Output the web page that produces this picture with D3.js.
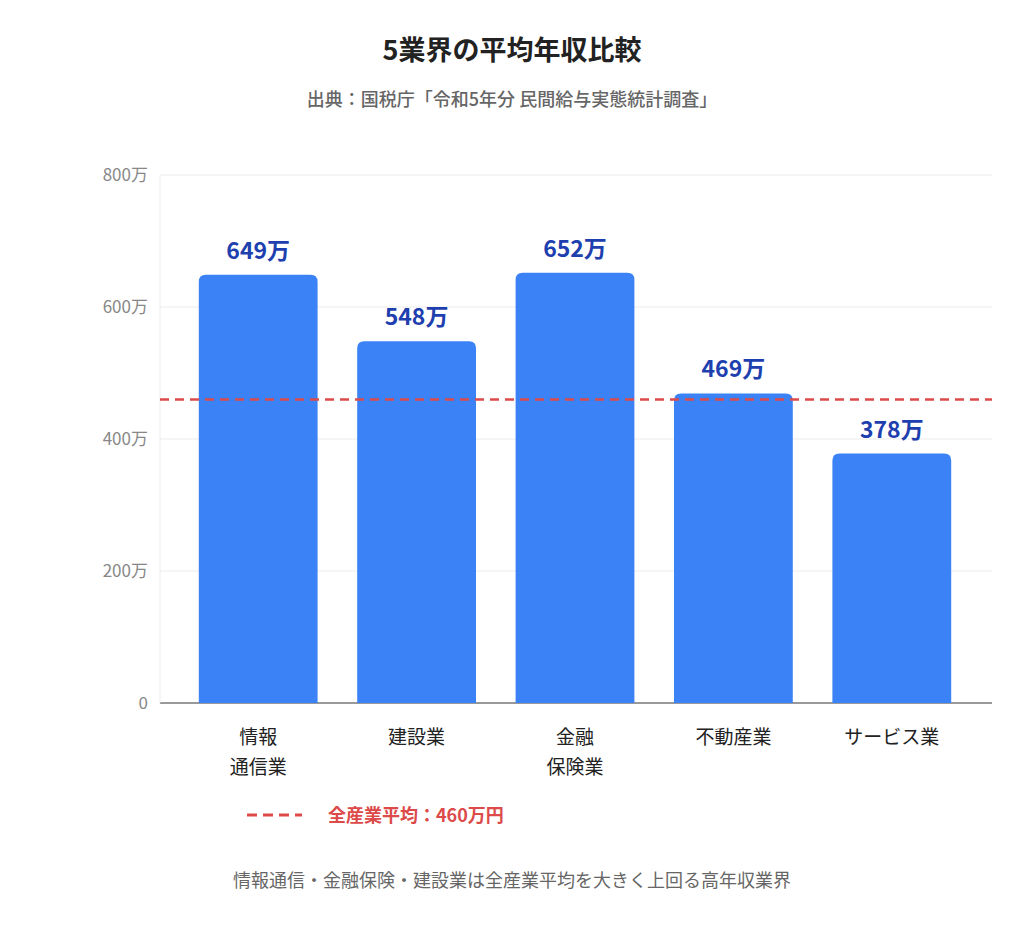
<!DOCTYPE html>
<html><head><meta charset="utf-8">
<script src="https://cdn.jsdelivr.net/npm/d3@7"></script>
<style>body{margin:0;background:#fff;font-family:"Noto Sans CJK JP","Noto Sans",sans-serif}</style>
</head><body><svg id="c" width="1024" height="928"></svg>
<script>
const categories=[["情報","通信業"],["建設業"],["金融","保険業"],["不動産業"],["サービス業"]];
const values=[649,548,652,469,378];
const average=460;
const yTicks=[0,200,400,600,800];
const svg=d3.select("#c");
const F='"Noto Sans CJK JP",sans-serif';
const x=d3.scaleBand().domain(d3.range(5)).range([179,971]).paddingInner(0.25).paddingOuter(0.125);
const y=d3.scaleLinear().domain([0,800]).range([703,175]);
svg.append("text").attr("x",512).attr("y",60).attr("text-anchor","middle").attr("font-family",F).attr("font-size",27).attr("font-weight",700).attr("fill","#222").text("5業界の平均年収比較");
svg.append("text").attr("x",512).attr("y",106).attr("text-anchor","middle").attr("font-family",F).attr("font-size",18).attr("font-weight",500).attr("fill","#666").text("出典：国税庁「令和5年分 民間給与実態統計調査」");
svg.selectAll(".g").data(yTicks).enter().append("line").attr("x1",160).attr("x2",992).attr("y1",d=>y(d)).attr("y2",d=>y(d)).attr("stroke",d=>d===0?"#999":"#ebebeb").attr("stroke-width",d=>d===0?2:1);
svg.append("line").attr("x1",160).attr("x2",160).attr("y1",175).attr("y2",703).attr("stroke","#ebebeb");
svg.selectAll(".t").data(yTicks).enter().append("text").attr("x",148).attr("y",d=>y(d)+6).attr("text-anchor","end").attr("font-family",F).attr("font-size",17).attr("fill","#888").text(d=>d===0?"0":d+"万");
const r=7;
svg.selectAll(".b").data(values).enter().append("path").attr("fill","#3b82f6").attr("d",(d,i)=>{const x0=x(i),w=x.bandwidth(),y0=y(d),y1=y(0);return `M${x0},${y1}V${y0+r}Q${x0},${y0} ${x0+r},${y0}H${x0+w-r}Q${x0+w},${y0} ${x0+w},${y0+r}V${y1}Z`;});
svg.selectAll(".v").data(values).enter().append("text").attr("x",(d,i)=>x(i)+x.bandwidth()/2).attr("y",d=>y(d)-16).attr("text-anchor","middle").attr("font-family",F).attr("font-size",23).attr("font-weight",700).attr("fill","#1e40af").text(d=>d+"万");
svg.append("line").attr("x1",160).attr("x2",992).attr("y1",y(average)).attr("y2",y(average)).attr("stroke","#dc4a4a").attr("stroke-width",2.5).attr("stroke-dasharray","9,6");
categories.forEach((c,i)=>{c.forEach((s,j)=>{svg.append("text").attr("x",x(i)+x.bandwidth()/2).attr("y",744+j*30).attr("text-anchor","middle").attr("font-family",F).attr("font-size",19).attr("fill","#222").text(s);});});
svg.append("line").attr("x1",247).attr("x2",302).attr("y1",815).attr("y2",815).attr("stroke","#dc4a4a").attr("stroke-width",3).attr("stroke-dasharray","10,6");
svg.append("text").attr("x",328).attr("y",822).attr("font-family",F).attr("font-size",18).attr("font-weight",700).attr("fill","#dc4a4a").text("全産業平均：460万円");
svg.append("text").attr("x",512).attr("y",887).attr("text-anchor","middle").attr("font-family",F).attr("font-size",18).attr("fill","#666").text("情報通信・金融保険・建設業は全産業平均を大きく上回る高年収業界");
</script></body></html>
